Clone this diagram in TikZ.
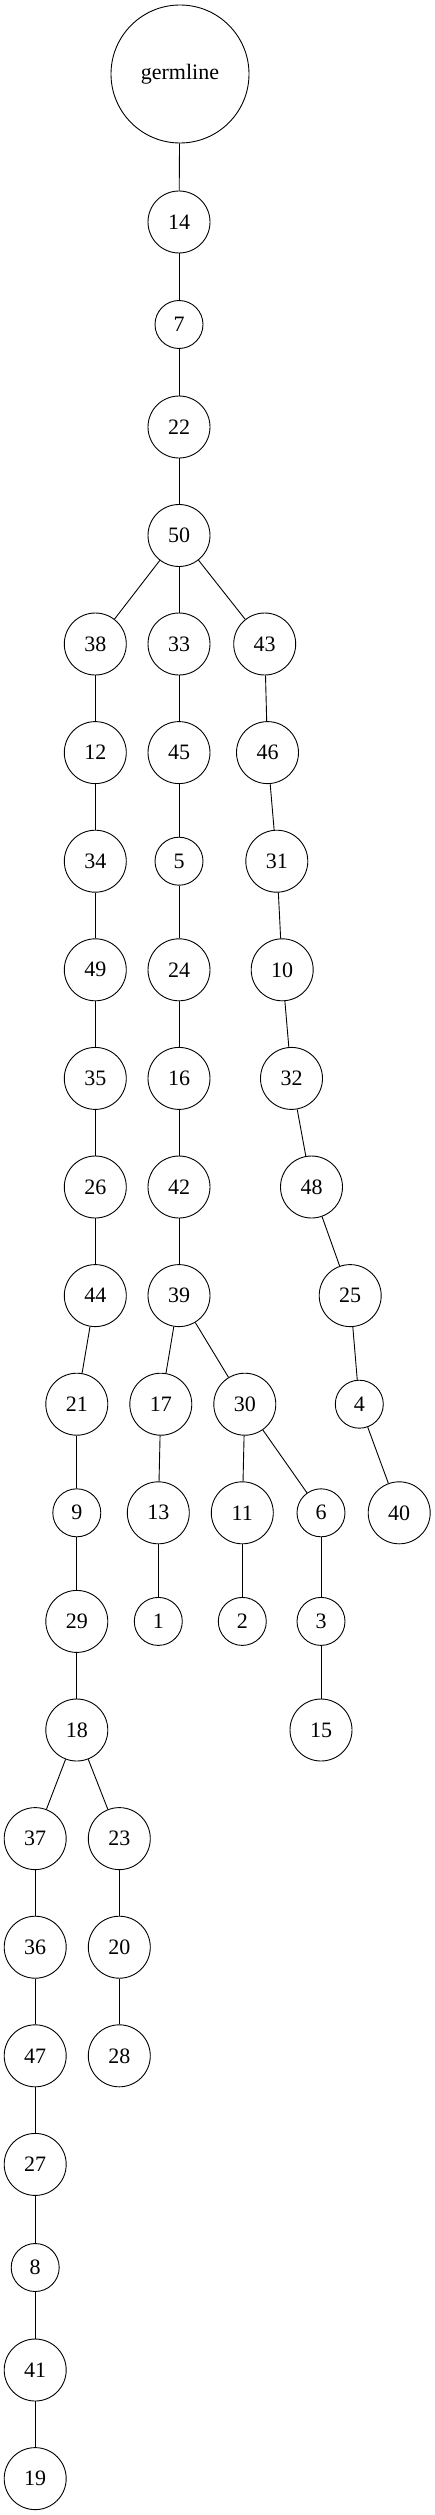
\documentclass[tikz,border=0pt]{standalone}
\usepackage{fontspec}
\setmainfont{Liberation Serif}
\tikzset{
  tnode/.style={circle, draw, line width=0.9pt, minimum size=62pt, inner sep=0pt, font=\fontsize{22}{26}\selectfont},
  snode/.style={tnode, minimum size=48pt},
  gnode/.style={tnode, minimum size=138pt},
  tedge/.style={line width=0.9pt}
}
\begin{document}
\begin{tikzpicture}[x=1pt, y=-1pt]
   \useasboundingbox (0,0) rectangle (435,2515);
   % trunk
   \node[gnode] (germline) at (180,74) {germline};
   \node[tnode] (n14) at (179,222) {14};
   \node[snode] (n7) at (179,324.5) {7};
   \node[tnode] (n22) at (179,427) {22};
   \node[tnode] (n50) at (179,535.5) {50};
   % left branch
   \node[tnode] (n38) at (95.3,644) {38};
   \node[tnode] (n12) at (95.3,752.6) {12};
   \node[tnode] (n34) at (95.3,861.2) {34};
   \node[tnode] (n49) at (95.3,969.8) {49};
   \node[tnode] (n35) at (95.3,1078.4) {35};
   \node[tnode] (n26) at (95.3,1187) {26};
   \node[tnode] (n44) at (95.3,1295.6) {44};
   \node[tnode] (n21) at (76.8,1404.2) {21};
   \node[snode] (n9) at (76.8,1512.8) {9};
   \node[tnode] (n29) at (76.8,1621.4) {29};
   \node[tnode] (n18) at (76.8,1730) {18};
   \node[tnode] (n37) at (35.2,1838.6) {37};
   \node[tnode] (n36) at (35.2,1947.2) {36};
   \node[tnode] (n47) at (35.2,2055.8) {47};
   \node[tnode] (n27) at (35.2,2164.4) {27};
   \node[snode] (n8) at (35.2,2267.5) {8};
   \node[tnode] (n41) at (35.2,2370) {41};
   \node[tnode] (n19) at (35.2,2478.6) {19};
   \node[tnode] (n23) at (119.3,1838.6) {23};
   \node[tnode] (n20) at (119.3,1947.2) {20};
   \node[tnode] (n28) at (119.3,2055.8) {28};
   % middle branch
   \node[tnode] (n33) at (179,644) {33};
   \node[tnode] (n45) at (179,752.6) {45};
   \node[snode] (n5) at (179,861.2) {5};
   \node[tnode] (n24) at (179,969.8) {24};
   \node[tnode] (n16) at (179,1078.4) {16};
   \node[tnode] (n42) at (179,1187) {42};
   \node[tnode] (n39) at (179,1295.6) {39};
   \node[tnode] (n17) at (160.8,1404.2) {17};
   \node[tnode] (n13) at (158.3,1512.8) {13};
   \node[snode] (n1) at (158.3,1621.4) {1};
   \node[tnode] (n30) at (244.8,1404.2) {30};
   \node[tnode] (n11) at (242.3,1512.8) {11};
   \node[snode] (n2) at (242.3,1621.4) {2};
   \node[snode] (n6) at (321,1512.8) {6};
   \node[snode] (n3) at (321,1621.4) {3};
   \node[tnode] (n15) at (321,1730) {15};
   % right branch
   \node[tnode] (n43) at (264.7,644) {43};
   \node[tnode] (n46) at (267.5,752.6) {46};
   \node[tnode] (n31) at (276.8,861.2) {31};
   \node[tnode] (n10) at (282.2,969.8) {10};
   \node[tnode] (n32) at (291.5,1078.4) {32};
   \node[tnode] (n48) at (311.5,1187) {48};
   \node[tnode] (n25) at (350.2,1295.6) {25};
   \node[snode] (n4) at (359.3,1404.2) {4};
   \node[tnode] (n40) at (399.2,1512.8) {40};
   % edges
   \foreach \a/\b in {germline/n14, n14/n7, n7/n22, n22/n50,
       n50/n38, n50/n33, n50/n43,
       n38/n12, n12/n34, n34/n49, n49/n35, n35/n26, n26/n44, n44/n21,
       n21/n9, n9/n29, n29/n18, n18/n37, n18/n23,
       n37/n36, n36/n47, n47/n27, n27/n8, n8/n41, n41/n19,
       n23/n20, n20/n28,
       n33/n45, n45/n5, n5/n24, n24/n16, n16/n42, n42/n39,
       n39/n17, n39/n30, n17/n13, n13/n1,
       n30/n11, n30/n6, n11/n2, n6/n3, n3/n15,
       n43/n46, n46/n31, n31/n10, n10/n32, n32/n48, n48/n25,
       n25/n4, n4/n40}
     \draw[tedge] (\a) -- (\b);
\end{tikzpicture}
\end{document}
